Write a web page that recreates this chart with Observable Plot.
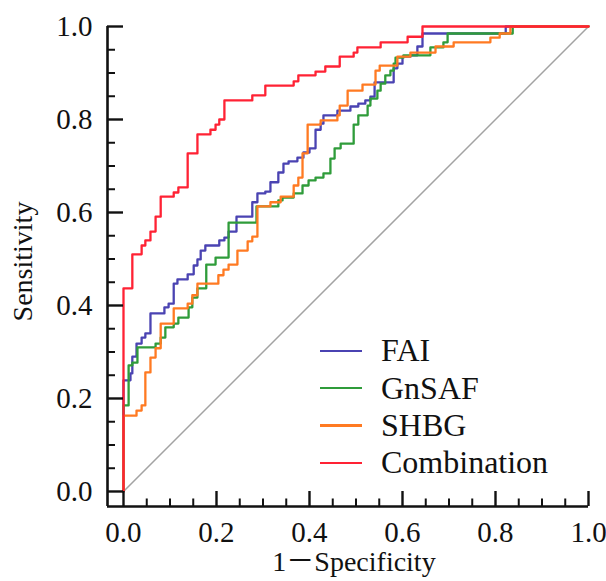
<!DOCTYPE html>
<html>
<head>
<meta charset="utf-8">
<script src="https://cdn.jsdelivr.net/npm/d3@7"></script>
<script src="https://cdn.jsdelivr.net/npm/@observablehq/plot@0.6"></script>
<style>
  html, body { margin: 0; padding: 0; background: #fff; }
  #wrap { position: relative; width: 606px; height: 581px; overflow: hidden; font-family: "Liberation Serif", "Times New Roman", "Noto Sans CJK SC", serif; }
  #legend { position: absolute; left: 320px; top: 332px; }
  .row { display: flex; align-items: center; height: 37.4px; font-size: 32px; color: #111; }
  .sw { width: 42px; height: 2.3px; margin-right: 19px; }
</style>
</head>
<body>
<div id="wrap"></div>
<script>
// ---- data ----
const seriesNames = ["FAI", "GnSAF", "SHBG", "Combination"];
const seriesColors = ["#4a43b2", "#2f9c3a", "#ff7a22", "#ff2234"];

const faiFpr = [0, 0, 0.015, 0.019, 0.028, 0.039, 0.047, 0.058, 0.088, 0.097, 0.108, 0.116, 0.138, 0.151, 0.159, 0.166, 0.176, 0.206, 0.217, 0.226, 0.243, 0.277, 0.288, 0.305, 0.316, 0.333, 0.344, 0.355, 0.374, 0.387, 0.400, 0.413, 0.424, 0.430, 0.460, 0.488, 0.505, 0.520, 0.531, 0.540, 0.581, 0.589, 0.600, 0.617, 0.632, 0.643, 0.822, 1];
const faiTpr = [0, 0.239, 0.254, 0.290, 0.318, 0.331, 0.340, 0.383, 0.396, 0.404, 0.447, 0.456, 0.467, 0.486, 0.499, 0.518, 0.529, 0.540, 0.546, 0.559, 0.591, 0.622, 0.641, 0.645, 0.665, 0.686, 0.705, 0.710, 0.718, 0.729, 0.738, 0.778, 0.791, 0.809, 0.819, 0.828, 0.834, 0.841, 0.849, 0.880, 0.910, 0.920, 0.935, 0.938, 0.957, 0.985, 1.0, 1.0];

const gnsafFpr = [0, 0, 0.011, 0.019, 0.030, 0.069, 0.080, 0.090, 0.108, 0.118, 0.140, 0.148, 0.159, 0.178, 0.198, 0.226, 0.286, 0.333, 0.342, 0.366, 0.385, 0.398, 0.413, 0.430, 0.445, 0.454, 0.467, 0.495, 0.505, 0.525, 0.531, 0.546, 0.553, 0.563, 0.574, 0.581, 0.585, 0.602, 0.660, 0.688, 0.697, 0.837, 1];
const gnsafTpr = [0, 0.185, 0.271, 0.277, 0.310, 0.318, 0.331, 0.353, 0.361, 0.374, 0.396, 0.417, 0.437, 0.488, 0.503, 0.578, 0.613, 0.626, 0.632, 0.641, 0.658, 0.669, 0.675, 0.684, 0.716, 0.738, 0.748, 0.789, 0.809, 0.830, 0.845, 0.862, 0.877, 0.895, 0.905, 0.920, 0.933, 0.938, 0.955, 0.966, 0.985, 1.0, 1.0];

const shbgFpr = [0, 0, 0.028, 0.039, 0.047, 0.058, 0.069, 0.080, 0.108, 0.138, 0.148, 0.159, 0.204, 0.215, 0.226, 0.245, 0.267, 0.277, 0.288, 0.316, 0.338, 0.366, 0.376, 0.385, 0.396, 0.424, 0.460, 0.465, 0.482, 0.514, 0.542, 0.551, 0.589, 0.617, 0.671, 0.710, 0.789, 0.809, 0.832, 1];
const shbgTpr = [0, 0.163, 0.174, 0.185, 0.256, 0.288, 0.308, 0.361, 0.394, 0.404, 0.422, 0.447, 0.465, 0.477, 0.488, 0.518, 0.538, 0.548, 0.613, 0.622, 0.634, 0.658, 0.675, 0.727, 0.789, 0.798, 0.809, 0.830, 0.862, 0.875, 0.905, 0.916, 0.935, 0.944, 0.957, 0.966, 0.976, 0.985, 1.0, 1.0];

const combFpr = [0, 0, 0.019, 0.039, 0.047, 0.058, 0.069, 0.080, 0.108, 0.118, 0.138, 0.159, 0.187, 0.198, 0.206, 0.217, 0.277, 0.305, 0.366, 0.376, 0.413, 0.434, 0.465, 0.495, 0.503, 0.553, 0.611, 0.643, 1];
const combTpr = [0, 0.437, 0.510, 0.529, 0.540, 0.559, 0.591, 0.634, 0.643, 0.654, 0.727, 0.768, 0.778, 0.789, 0.800, 0.841, 0.852, 0.873, 0.882, 0.895, 0.903, 0.914, 0.935, 0.944, 0.955, 0.966, 0.978, 1.0, 1.0];

const xMajor = [0, 0.2, 0.4, 0.6, 0.8, 1.0];
const yMajor = [0, 0.2, 0.4, 0.6, 0.8, 1.0];
const xMinor = [0.05, 0.1, 0.15, 0.25, 0.3, 0.35, 0.45, 0.5, 0.55, 0.65, 0.7, 0.75, 0.85, 0.9, 0.95];
const yMinor = [0.05, 0.1, 0.15, 0.25, 0.3, 0.35, 0.45, 0.5, 0.55, 0.65, 0.7, 0.75, 0.85, 0.9, 0.95];
const diagonal = [0, 1];
const xTitle = "1－Specificity";
const yTitle = "Sensitivity";

// ---- build table ----
const fprs = [faiFpr, gnsafFpr, shbgFpr, combFpr];
const tprs = [faiTpr, gnsafTpr, shbgTpr, combTpr];
const rows = [];
seriesNames.forEach((name, i) => {
  fprs[i].forEach((x, j) => rows.push({series: name, x, y: tprs[i][j]}));
});

const xLo = -0.0344, yLo = -0.0323;
const font = '"Liberation Serif", "Times New Roman", "Noto Sans CJK SC", serif';

const chart = Plot.plot({
  width: 606,
  height: 581,
  marginLeft: 107,
  marginRight: 18,
  marginTop: 26,
  marginBottom: 75,
  style: {fontFamily: font, fontSize: "29px", background: "white", color: "#111"},
  x: {domain: [xLo, 1], axis: null},
  y: {domain: [yLo, 1], axis: null},
  color: {domain: seriesNames, range: seriesColors},
  marks: [
    // diagonal reference
    Plot.line(diagonal, {x: d => d, y: d => d, stroke: "#a3a3a3", strokeWidth: 1.5}),
    // ROC curves
    Plot.line(rows, {x: "x", y: "y", z: "series", stroke: "series", curve: "step-after", strokeWidth: 2.3}),
    // axis lines
    Plot.ruleY([yLo], {x1: xLo, x2: 1, stroke: "#111", strokeWidth: 2.6}),
    Plot.ruleX([xLo], {y1: yLo, y2: 1, stroke: "#111", strokeWidth: 2.6}),
    // inward ticks
    Plot.ruleX(xMajor, {x: d => d, y1: yLo, y2: 0, stroke: "#111", strokeWidth: 2.4}),
    Plot.ruleX(xMinor, {x: d => d, y1: yLo, y2: yLo / 2, stroke: "#111", strokeWidth: 2}),
    Plot.ruleY(yMajor, {y: d => d, x1: xLo, x2: 0, stroke: "#111", strokeWidth: 2.4}),
    Plot.ruleY(yMinor, {y: d => d, x1: xLo, x2: xLo / 2, stroke: "#111", strokeWidth: 2}),
    // tick labels
    Plot.axisX({ticks: xMajor, tickSize: 0, tickPadding: 15, tickFormat: d3.format(".1f"), label: null, fontSize: 29}),
    Plot.axisY({ticks: yMajor, tickSize: 0, tickPadding: 15, tickFormat: d3.format(".1f"), label: null, fontSize: 29}),
    // axis titles
    Plot.text([xTitle], {text: d => d, frameAnchor: "bottom", dx: 6, dy: 64, fontSize: 28}),
    Plot.text([yTitle], {text: d => d, frameAnchor: "left", textAnchor: "middle", rotate: -90, dx: -84, dy: -5, fontSize: 28})
  ]
});

const wrap = document.getElementById("wrap");
wrap.appendChild(chart);

const legend = document.createElement("div");
legend.id = "legend";
seriesNames.forEach((name, i) => {
  const row = document.createElement("div");
  row.className = "row";
  const sw = document.createElement("div");
  sw.className = "sw";
  sw.style.background = seriesColors[i];
  const lab = document.createElement("span");
  lab.textContent = name;
  row.appendChild(sw);
  row.appendChild(lab);
  legend.appendChild(row);
});
wrap.appendChild(legend);
</script>
</body>
</html>
